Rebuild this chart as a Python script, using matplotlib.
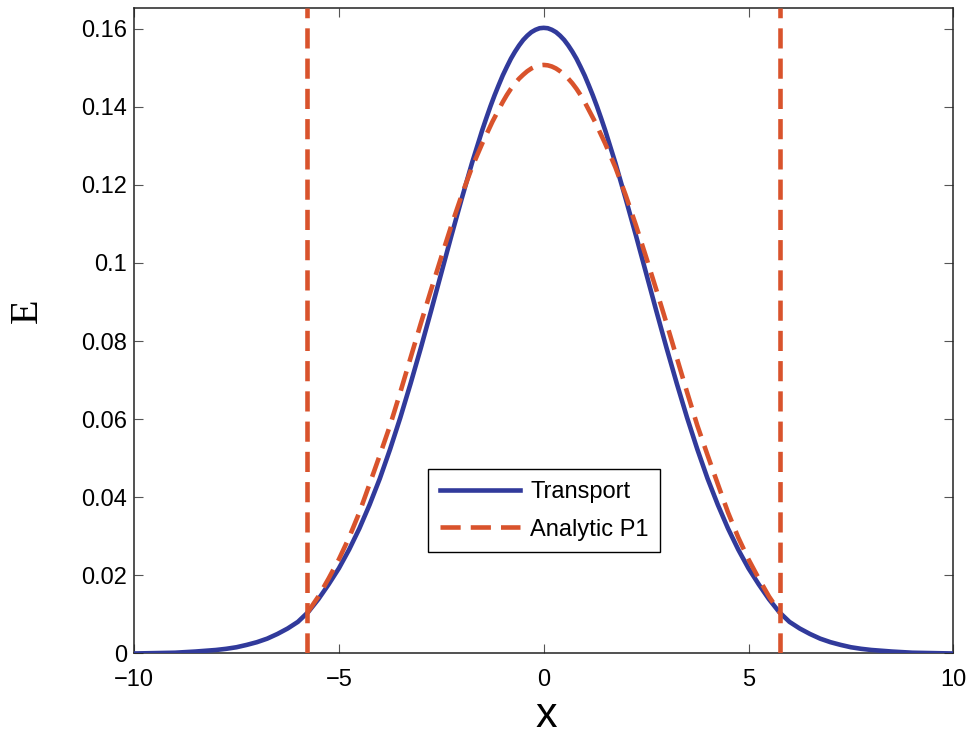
import matplotlib
matplotlib.use("Agg")
import matplotlib.pyplot as plt

plt.rcParams["font.family"] = ["Liberation Sans", "DejaVu Sans"]

# Energy density profiles E(x)
x_transport = [-10.0, -9.5, -9.0, -8.5, -8.0, -7.75, -7.5, -7.25, -7.0, -6.75, -6.5, -6.25,
               -6.0, -5.75, -5.5, -5.25, -5.0, -4.75, -4.5, -4.25, -4.0, -3.75, -3.5,
               -3.25, -3.0, -2.75, -2.5, -2.25, -2.0, -1.75, -1.5, -1.4, -1.3, -1.2,
               -1.1, -1.0, -0.9, -0.8, -0.7, -0.6, -0.5, -0.4, -0.3, -0.2, -0.1, 0.0,
               0.1, 0.2, 0.3, 0.4, 0.5, 0.6, 0.7, 0.8, 0.9, 1.0, 1.1, 1.2, 1.3, 1.4,
               1.5, 1.75, 2.0, 2.25, 2.5, 2.75, 3.0, 3.25, 3.5, 3.75, 4.0, 4.25, 4.5,
               4.75, 5.0, 5.25, 5.5, 5.75, 6.0, 6.25, 6.5, 6.75, 7.0, 7.25, 7.5, 7.75,
               8.0, 8.5, 9.0, 9.5, 10.0]
e_transport = [0.0000, 0.0001, 0.0002, 0.0005, 0.0009, 0.0012, 0.0016, 0.0022, 0.0029,
               0.0038, 0.0050, 0.0064, 0.0081, 0.0106, 0.0139, 0.0177, 0.0218, 0.0266,
               0.0320, 0.0381, 0.0448, 0.0523, 0.0604, 0.0691, 0.0782, 0.0877, 0.0974,
               0.1071, 0.1165, 0.1256, 0.1340, 0.1371, 0.1401, 0.1429, 0.1455, 0.1480,
               0.1502, 0.1523, 0.1541, 0.1557, 0.1571, 0.1582, 0.1591, 0.1597, 0.1601,
               0.1602,
               0.1601, 0.1597, 0.1591, 0.1582, 0.1571, 0.1557, 0.1541, 0.1523, 0.1502,
               0.1480, 0.1455, 0.1429, 0.1401, 0.1371, 0.1340, 0.1256, 0.1165, 0.1071,
               0.0974, 0.0877, 0.0782, 0.0691, 0.0604, 0.0523, 0.0448, 0.0381, 0.0320,
               0.0266, 0.0218, 0.0177, 0.0139, 0.0106, 0.0081, 0.0064, 0.0050, 0.0038,
               0.0029, 0.0022, 0.0016, 0.0012, 0.0009, 0.0005, 0.0002, 0.0001, 0.0000]

x_p1 = [-5.77, -5.5, -5.25, -5.0, -4.75, -4.5, -4.25, -4.0, -3.75, -3.5, -3.25, -3.0,
        -2.75, -2.5, -2.25, -2.0, -1.75, -1.5, -1.25, -1.0, -0.9, -0.8, -0.7, -0.6,
        -0.5, -0.4, -0.3, -0.2, -0.1, 0.0,
        0.1, 0.2, 0.3, 0.4, 0.5, 0.6, 0.7, 0.8, 0.9, 1.0, 1.25, 1.5, 1.75, 2.0,
        2.25, 2.5, 2.75, 3.0, 3.25, 3.5, 3.75, 4.0, 4.25, 4.5, 4.75, 5.0, 5.25,
        5.5, 5.77]
e_p1 = [0.0104, 0.0146, 0.0192, 0.0241, 0.0297, 0.0361, 0.0434, 0.0508, 0.0584, 0.0669,
        0.0757, 0.0845, 0.0931, 0.1015, 0.1097, 0.1174, 0.1245, 0.1306, 0.1362, 0.1412,
        0.1430, 0.1446, 0.1460, 0.1472, 0.1482, 0.1491, 0.1498, 0.1503, 0.1506, 0.1507,
        0.1506, 0.1503, 0.1498, 0.1491, 0.1482, 0.1472, 0.1460, 0.1446, 0.1430, 0.1412,
        0.1362, 0.1306, 0.1245, 0.1174, 0.1097, 0.1015, 0.0931, 0.0845, 0.0757, 0.0669,
        0.0584, 0.0508, 0.0434, 0.0361, 0.0297, 0.0241, 0.0192, 0.0146, 0.0104]

# P1 wavefront positions
wavefronts = [-5.77, 5.77]

x_ticks = [-10, -5, 0, 5, 10]
x_tick_labels = ["\u221210", "\u22125", "0", "5", "10"]
y_ticks = [0, 0.02, 0.04, 0.06, 0.08, 0.10, 0.12, 0.14, 0.16]
y_tick_labels = ["0", "0.02", "0.04", "0.06", "0.08", "0.1", "0.12", "0.14", "0.16"]

blue = "#313a9b"
red = "#d9532c"
dash = (0, (4.4, 2.2))
lw = 3.3

fig = plt.figure(figsize=(9.72, 7.36), dpi=100)
ax = fig.add_axes([0.1379, 0.1121, 0.8429, 0.8766])

ax.plot(x_transport, e_transport, color=blue, lw=lw, label="Transport", zorder=3)
ax.plot(x_p1, e_p1, color=red, lw=lw, linestyle=dash, label="Analytic P1", zorder=4)
for xf in wavefronts:
    ax.axvline(xf, color=red, lw=lw, linestyle=dash, zorder=4)

ax.set_xlim(-10, 10)
ax.set_ylim(0, 0.1652)
ax.set_xticks(x_ticks)
ax.set_xticklabels(x_tick_labels)
ax.set_yticks(y_ticks)
ax.set_yticklabels(y_tick_labels)

ax.tick_params(direction="in", length=6.3, width=0.8, color="#555555",
               top=True, right=True, labelsize=17)
ax.tick_params(axis="y", pad=5)
ax.tick_params(axis="x", pad=11.5)
for s in ax.spines.values():
    s.set_linewidth(1.1)
    s.set_color("#222222")

ax.set_xlabel("x", fontsize=31, va="baseline")
ax.xaxis.set_label_coords(0.5037, -0.1139)
ax.set_ylabel("E", fontsize=29, family=["Liberation Serif", "DejaVu Serif"], va="center")
ax.yaxis.set_label_coords(-0.1306, 0.531)

leg = ax.legend(loc="upper left", bbox_to_anchor=(0.3592, 0.2855), borderaxespad=0,
                fontsize=17, handlelength=3.4, handletextpad=0.42,
                labelspacing=0.67, borderpad=0.49, fancybox=False, framealpha=1)
leg.get_frame().set_edgecolor("black")
leg.get_frame().set_linewidth(1.0)

fig.savefig("out.png", dpi=100)
